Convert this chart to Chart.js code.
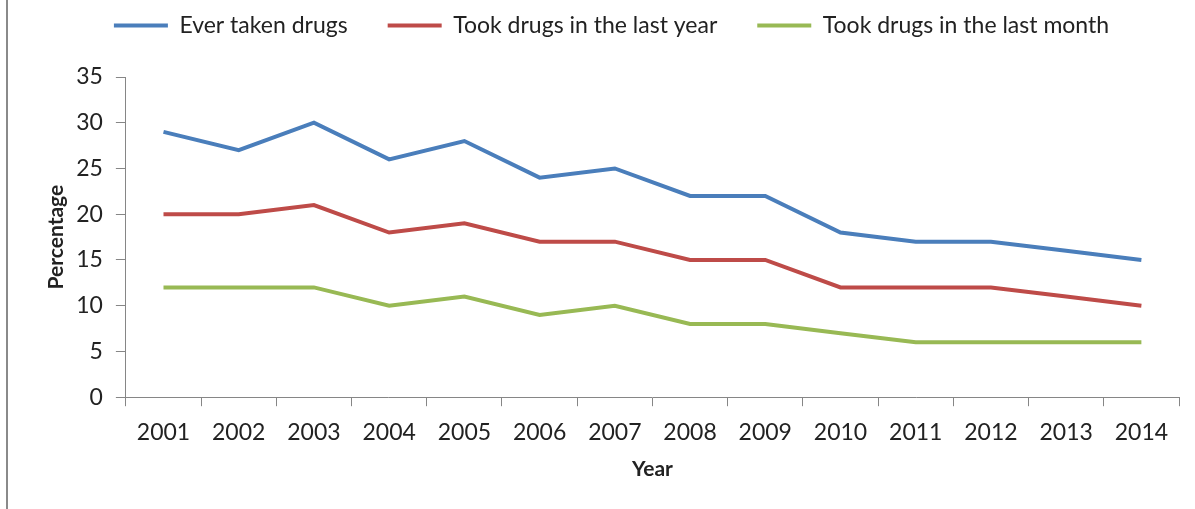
<!DOCTYPE html>
<html lang="en">
<head>
    <meta charset="UTF-8">
    <title>Drug use by year</title>
    <script src="https://cdn.jsdelivr.net/npm/chart.js"></script>
    <style>
        html, body {
            margin: 0;
            padding: 0;
            background: #ffffff;
        }

        .chart-wrap {
            position: relative;
            width: 1195px;
            height: 509px;
        }

        .edge {
            position: absolute;
            left: 6px;
            top: 0;
            width: 2px;
            height: 509px;
            background: #8a8a8a;
        }
    </style>
</head>
<body>
    <div class="chart-wrap">
        <div class="edge"></div>
        <canvas id="drugChart" width="1195" height="509"></canvas>
    </div>

    <script>
        const years = ['2001', '2002', '2003', '2004', '2005', '2006', '2007',
                       '2008', '2009', '2010', '2011', '2012', '2013', '2014'];
        const everTaken = [29, 27, 30, 26, 28, 24, 25, 22, 22, 18, 17, 17, 16, 15];
        const lastYear = [20, 20, 21, 18, 19, 17, 17, 15, 15, 12, 12, 12, 11, 10];
        const lastMonth = [12, 12, 12, 10, 11, 9, 10, 8, 8, 7, 6, 6, 6, 6];
        const seriesNames = ['Ever taken drugs', 'Took drugs in the last year', 'Took drugs in the last month'];

        const axisGrey = '#868686';
        const textColor = '#222222';
        const fontFamily = 'Lato, "Open Sans", sans-serif';

        function lineSet(label, data, color) {
            return {
                label: label,
                data: data,
                borderColor: color,
                backgroundColor: color,
                borderWidth: 4,
                pointRadius: 0,
                pointHoverRadius: 0,
                tension: 0,
                fill: false
            };
        }

        // extra space between the legend and the plot
        const legendGap = {
            id: 'legendGap',
            beforeInit(chart) {
                const origFit = chart.legend.fit;
                chart.legend.fit = function () {
                    origFit.bind(chart.legend)();
                    this.height += 30;
                };
            }
        };

        document.addEventListener('DOMContentLoaded', () => {
            const ctx = document.getElementById('drugChart').getContext('2d');
            new Chart(ctx, {
                type: 'line',
                data: {
                    labels: years,
                    datasets: [
                        lineSet(seriesNames[0], everTaken, '#4a7ebb'),
                        lineSet(seriesNames[1], lastYear, '#be4b48'),
                        lineSet(seriesNames[2], lastMonth, '#98b954')
                    ]
                },
                plugins: [legendGap],
                options: {
                    responsive: false,
                    animation: false,
                    layout: {
                        // legend padding also sets item spacing, so pull it up
                        padding: { left: 44, right: 16, top: -26, bottom: 27 }
                    },
                    plugins: {
                        tooltip: { enabled: false },
                        legend: {
                            position: 'top',
                            labels: {
                                usePointStyle: true,
                                pointStyle: 'line',
                                pointStyleWidth: 54,
                                color: textColor,
                                padding: 40,
                                font: { family: fontFamily, size: 23 }
                            }
                        }
                    },
                    scales: {
                        x: {
                            offset: true,
                            grid: {
                                display: true,
                                offset: true,
                                drawOnChartArea: false,
                                drawTicks: true,
                                tickLength: 9,
                                color: axisGrey
                            },
                            border: { color: axisGrey, width: 1 },
                            ticks: {
                                color: textColor,
                                padding: 13,
                                maxRotation: 0,
                                font: { family: fontFamily, size: 23 }
                            },
                            title: {
                                display: true,
                                text: 'Year',
                                color: textColor,
                                padding: { top: -3, bottom: 0 },
                                font: { family: fontFamily, size: 21, weight: 'bold' }
                            }
                        },
                        y: {
                            min: 0,
                            max: 35,
                            ticks: {
                                stepSize: 5,
                                color: textColor,
                                padding: 13,
                                font: { family: fontFamily, size: 23 }
                            },
                            grid: {
                                display: true,
                                drawOnChartArea: false,
                                drawTicks: true,
                                tickLength: 10,
                                color: axisGrey
                            },
                            border: { color: axisGrey, width: 1 },
                            title: {
                                display: true,
                                text: 'Percentage',
                                color: textColor,
                                padding: { top: 0, bottom: -6 },
                                font: { family: fontFamily, size: 21, weight: 'bold' }
                            }
                        }
                    }
                }
            });
        });
    </script>
</body>
</html>
